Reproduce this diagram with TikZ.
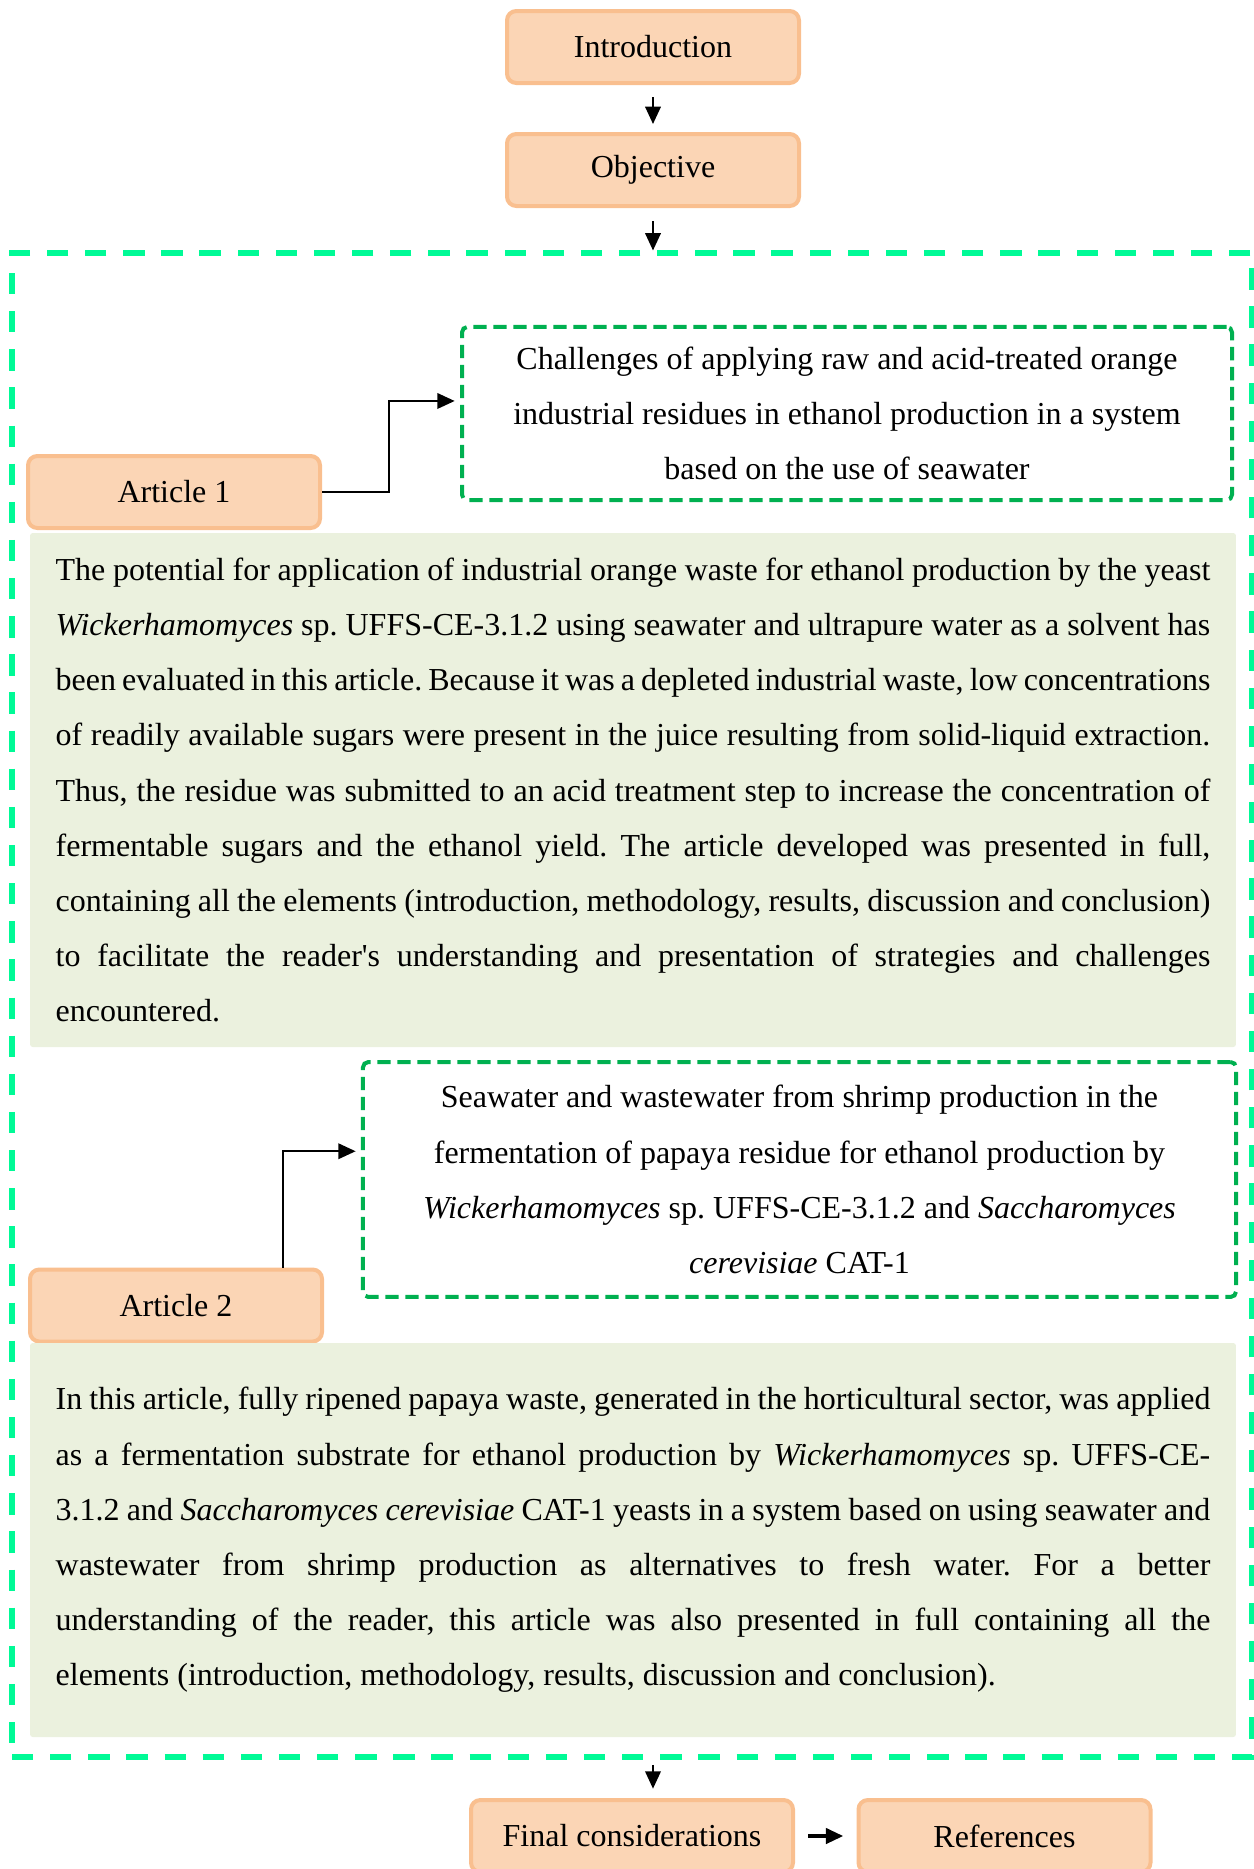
\documentclass[tikz,border=0pt]{standalone}
\usepackage{fontspec}
\setmainfont{Liberation Serif}
\usetikzlibrary{arrows.meta}

\definecolor{peach}{RGB}{251,213,181}
\definecolor{peachline}{RGB}{249,191,143}
\definecolor{sage}{RGB}{235,241,222}
\definecolor{mint}{RGB}{0,250,150}
\definecolor{leaf}{RGB}{0,176,80}

\tikzset{
  stage/.style={draw=peachline, fill=peach, line width=1.5pt, rounded corners=3.5pt,
    minimum width=109.5pt, minimum height=27pt, inner sep=0pt},
  summary/.style={fill=sage, rounded corners=1pt, align=justify, text width=433pt,
    inner xsep=9.6pt, inner ysep=0pt},
  aim/.style={draw=leaf, line width=1.5pt, dash pattern=on 5pt off 2.5pt,
    rounded corners=2pt, align=center, inner sep=0pt},
  panel/.style={draw=mint, line width=1.9pt, dash pattern=on 8pt off 6.3pt},
  link/.style={line width=0.8pt, -{Triangle[width=5.8pt,length=6.5pt]}}
}

\begin{document}
\frenchspacing
\begin{tikzpicture}[x=0.375pt,y=-0.375pt,font=\fontsize{12}{20.7}\selectfont]
\useasboundingbox (0,0) rectangle (1254,1869);

\node[stage] (intro) at (653,47) {Introduction};
\node[stage] (obj) at (653,170) {Objective};
\node[panel, minimum width=465pt, minimum height=564pt] (frame) at (632,1005) {};

\node[stage] (art1) at (174,492) {Article 1};
\node[aim, minimum width=288.75pt, minimum height=64.9pt] (aim1) at (847,413.5)
  {Challenges of applying raw and acid-treated orange\\
   industrial residues in ethanol production in a system\\
   based on the use of seawater};
\node[summary, minimum height=192.75pt] (sum1) at (633,790)
  {The potential for application of industrial orange waste for ethanol production by the yeast\linebreak
   \textit{Wickerhamomyces} sp. UFFS-CE-3.1.2 using seawater and ultrapure water as a solvent has\linebreak
   been evaluated in this article. Because it was a depleted industrial waste, low concentrations\linebreak
   of readily available sugars were present in the juice resulting from solid-liquid extraction.\linebreak
   Thus, the residue was submitted to an acid treatment step to increase the concentration of\linebreak
   fermentable sugars and the ethanol yield. The article developed was presented in full,\linebreak
   containing all the elements (introduction, methodology, results, discussion and conclusion)\linebreak
   to facilitate the reader\textquotesingle s understanding and presentation of strategies and challenges\linebreak
   encountered.\par\vspace{2.7pt}};

\node[aim, minimum width=327.4pt, minimum height=88.1pt] (aim2) at (799.5,1179.5)
  {Seawater and wastewater from shrimp production in the\\
   fermentation of papaya residue for ethanol production by\\
   \textit{Wickerhamomyces} sp. UFFS-CE-3.1.2 and \textit{Saccharomyces}\\
   \textit{cerevisiae} CAT-1};
\node[stage] (art2) at (176,1305.5) {Article 2};
\node[summary, minimum height=147.75pt] (sum2) at (633,1540)
  {In this article, fully ripened papaya waste, generated in the horticultural sector, was applied\linebreak
   as a fermentation substrate for ethanol production by \textit{Wickerhamomyces} sp. UFFS-CE-\linebreak
   3.1.2 and \textit{Saccharomyces cerevisiae} CAT-1 yeasts in a system based on using seawater and\linebreak
   wastewater from shrimp production as alternatives to fresh water. For a better\linebreak
   understanding of the reader, this article was also presented in full containing all the\linebreak
   elements (introduction, methodology, results, discussion and conclusion).\par\vspace{9.6pt}};

\node[stage, minimum width=120.75pt] (final) at (632,1836) {Final considerations};
\node[stage] (refs) at (1004.5,1836) {References};

\draw[link, shorten <=4.5pt, shorten >=3pt] (intro) -- (obj);
\draw[link, shorten <=5pt] (obj) -- (obj |- frame.north);
\draw[link, shorten >=2pt] (art1.east) -- ++(67,0) |- ([yshift=4.7pt]aim1.west);
\draw[link, shorten >=2pt] ([xshift=40pt]art2.north) |- ([yshift=10.6pt]aim2.west);
\draw[link, shorten <=2pt, shorten >=3.5pt] (frame.south -| obj) -- (final.north -| obj);
\draw[link, line width=1.2pt, shorten <=5pt, shorten >=5pt] (final) -- (refs);
\end{tikzpicture}
\end{document}
